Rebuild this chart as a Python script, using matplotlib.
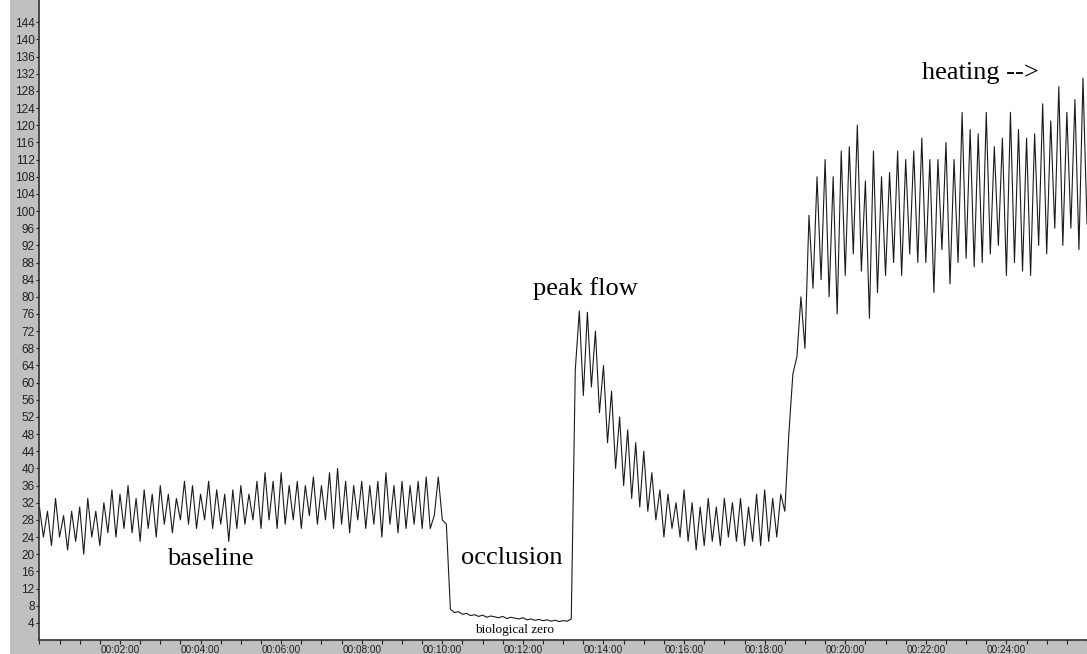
import matplotlib
matplotlib.use('Agg')
import matplotlib.pyplot as plt
import numpy as np
from matplotlib.patches import Rectangle
from matplotlib.ticker import MultipleLocator

# laser doppler flux, one reading every 0.1 min
step_min = 0.1

baseline = [31, 24, 30, 22, 33, 24, 29, 21, 30, 23,
            31, 20, 33, 24, 30, 22, 32, 25, 35, 24,
            34, 26, 36, 25, 33, 23, 35, 26, 34, 24,
            36, 27, 34, 25, 33, 28, 37, 27, 36, 26,
            34, 28, 37, 26, 35, 27, 34, 23, 35, 26,
            36, 27, 34, 28, 37, 26, 39, 28, 37, 26,
            39, 27, 36, 28, 37, 26, 36, 29, 38, 27,
            36, 28, 39, 26, 40, 27, 37, 25, 36, 28,
            37, 26, 36, 27, 37, 24, 39, 27, 36, 25,
            37, 26, 36, 27, 37, 26, 38, 26, 29, 38,
            28, 27]
occlusion = [7.2, 6.4, 6.6, 6.0, 6.2, 5.7, 5.9, 5.5, 5.8, 5.3,
             5.6, 5.4, 5.2, 5.5, 5.0, 5.3, 5.1, 4.9, 5.2, 4.7,
             4.9, 4.6, 4.8, 4.5, 4.7, 4.4, 4.6, 4.3, 4.5, 4.4,
             4.9]
recovery = [63, 76.7, 57, 76.4, 59, 72, 53, 64, 46, 58,
            40, 52, 36, 49, 33, 46, 31, 44, 30, 39,
            28, 35, 24, 34, 26, 32, 24, 35, 23, 32,
            21, 31, 22, 33, 23, 31, 22, 33, 24, 32,
            23, 33, 22, 31, 23, 34, 22, 35, 23, 33,
            24, 34]
heating = [30, 48, 62, 66, 80, 68, 99, 82, 108, 84,
           112, 80, 108, 76, 114, 85, 115, 90, 120, 86,
           107, 75, 114, 81, 108, 85, 109, 88, 114, 85,
           112, 90, 114, 88, 117, 88, 112, 81, 112, 91,
           116, 83, 112, 88, 123, 89, 119, 87, 118, 88,
           123, 90, 115, 92, 117, 85, 123, 88, 119, 86,
           117, 85, 118, 92, 125, 90, 121, 96, 129, 92,
           123, 96, 126, 91, 131, 97]

flow = np.array(baseline + occlusion + recovery + heating, dtype=float)
minutes = np.arange(len(flow)) * step_min

major_minutes = list(range(2, 25, 2))
major_labels = [f'00:{m:02d}:00' for m in major_minutes]
y_ticks = list(range(4, 145, 4))

W, H = 1087, 654
left_px, bottom_px = 39.4, 14

fig = plt.figure(figsize=(W / 100, H / 100), dpi=100, facecolor='white')
gray = '#c0c0c0'
fig.patches.append(Rectangle((10 / W, 0), (left_px - 10) / W, 1, transform=fig.transFigure,
                             facecolor=gray, edgecolor='none', zorder=-5))
fig.patches.append(Rectangle((10 / W, 0), 1, bottom_px / H, transform=fig.transFigure,
                             facecolor=gray, edgecolor='none', zorder=-5))

ax = fig.add_axes([left_px / W, bottom_px / H, 1 - left_px / W, 1 - bottom_px / H])
ax.plot(minutes, flow, color='#1a1a1a', lw=0.8)

ax.set_xlim(0, 26)
ax.set_ylim(0, 149.2)
for s in ['top', 'right']:
    ax.spines[s].set_visible(False)
for s in ['left', 'bottom']:
    ax.spines[s].set_color('#303030')
    ax.spines[s].set_linewidth(1.2)

ax.set_yticks(y_ticks)
ax.set_xticks(major_minutes, labels=major_labels)
ax.xaxis.set_minor_locator(MultipleLocator(0.5))
ax.tick_params(axis='y', direction='out', length=2.5, width=0.8, pad=1,
               labelsize=8.5, colors='#222222')
ax.tick_params(axis='x', which='major', direction='out', length=3, width=0.8, pad=0.5,
               labelsize=7.2, colors='#222222')
ax.tick_params(axis='x', which='minor', direction='out', length=3, width=0.8, color='#222222')
for lab in ax.get_xticklabels() + ax.get_yticklabels():
    lab.set_family('Liberation Sans')

serif = 'Liberation Serif'
ax.text(4.23, 17.4, 'baseline', ha='center', va='baseline', fontsize=19, family=serif)
ax.text(11.72, 17.8, 'occlusion', ha='center', va='baseline', fontsize=19, family=serif)
ax.text(13.54, 80.4, 'peak flow', ha='center', va='baseline', fontsize=19, family=serif)
ax.text(23.36, 130.7, 'heating -->', ha='center', va='baseline', fontsize=19, family=serif)
ax.text(11.78, 1.7, 'biological zero', ha='center', va='baseline', fontsize=9.5, family=serif)

fig.savefig('out.png', dpi=100)
